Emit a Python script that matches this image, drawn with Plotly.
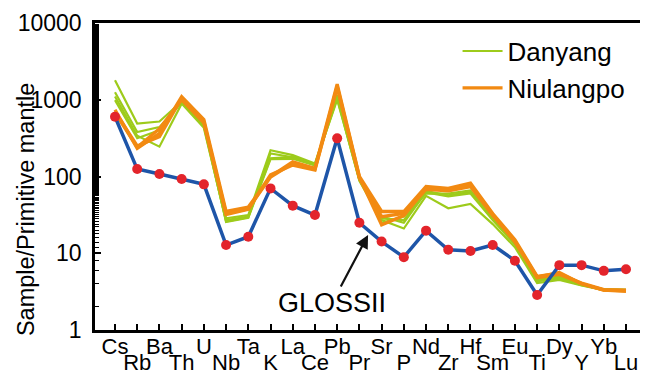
import plotly.graph_objects as go

elements = ["Cs", "Rb", "Ba", "Th", "U", "Nb", "Ta", "K", "La", "Ce", "Pb", "Pr",
            "Sr", "P", "Nd", "Zr", "Hf", "Sm", "Eu", "Ti", "Dy", "Y", "Yb", "Lu"]

danyang_1 = [1800, 490, 520, 950, 470, 28.5, 31.5, 220, 190, 148, 1100, 90, 28.5, 27, 65, 57, 63, 28, 13.5, 4.4, 4.7, 3.85, 3.35, 3.3]
danyang_2 = [1250, 380, 440, 920, 450, 26, 29.5, 200, 178, 141, 1050, 88, 27, 21, 56, 38.5, 44, 24, 12, 4.1, 4.5, 3.8, 3.3, 3.25]
danyang_3 = [1100, 340, 245, 890, 430, 27, 30, 173, 180, 145, 1000, 92, 30, 25, 62, 55, 60, 27, 13, 4.3, 4.8, 3.9, 3.3, 3.3]
danyang_4 = [990, 315, 400, 960, 480, 25.5, 29, 168, 170, 140, 1150, 95, 25, 30, 60, 60, 66, 29, 14, 4.6, 5.0, 4.0, 3.4, 3.35]

niulangpo_1 = [740, 233, 365, 1100, 550, 35, 40, 100, 156, 128, 1600, 100, 35, 35, 74, 70, 82, 33, 15, 5.0, 5.5, 4.0, 3.3, 3.25]
niulangpo_2 = [700, 250, 330, 1050, 520, 32, 37.5, 105, 141, 121, 1450, 95, 30, 33, 68, 65, 74, 31, 14.5, 4.8, 5.3, 4.1, 3.35, 3.3]
niulangpo_3 = [680, 240, 420, 1000, 500, 33, 38, 98, 148, 124, 1500, 98, 23.5, 31, 70, 67, 78, 32, 14, 4.9, 5.6, 4.0, 3.3, 3.2]

gloss_ii = [600, 125, 108, 93, 79, 12.8, 16.4, 70, 41.7, 31.5, 314, 25, 14.2, 8.9, 19.7, 11.1, 10.7, 12.8, 8.0, 2.86, 7.0, 7.0, 5.9, 6.2]

y_ticks = [1, 10, 100, 1000, 10000]
y_tick_labels = ["1", "10", "100", "1000", "10000"]

GREEN = "#9DCB1B"
ORANGE = "#F28A12"
BLUE = "#1E55A8"
RED = "#E3242B"
FONT = "Liberation Sans, Arial, sans-serif"

xs = list(range(len(elements)))
fig = go.Figure()

for i, s in enumerate([danyang_1, danyang_2, danyang_3, danyang_4]):
    fig.add_trace(go.Scatter(x=xs, y=s, mode="lines", name="Danyang",
                             legendgroup="d", showlegend=(i == 0),
                             line=dict(color=GREEN, width=2.2)))
for i, s in enumerate([niulangpo_1, niulangpo_2, niulangpo_3]):
    fig.add_trace(go.Scatter(x=xs, y=s, mode="lines", name="Niulangpo",
                             legendgroup="n", showlegend=(i == 0),
                             line=dict(color=ORANGE, width=3.3)))
fig.add_trace(go.Scatter(x=xs, y=gloss_ii, mode="lines+markers", name="GLOSSII",
                         showlegend=False,
                         line=dict(color=BLUE, width=3.5),
                         marker=dict(color=RED, size=10)))

even = xs[0::2]
odd = xs[1::2]
# invisible helper trace for the second label row axis
fig.add_trace(go.Scatter(x=[0], y=[1], xaxis="x2", mode="markers",
                         marker=dict(opacity=0), showlegend=False, hoverinfo="skip"))

# the page body has an 8px default margin, so the figure is 8px smaller
fig.update_layout(
    width=640, height=368,
    margin=dict(l=87, r=2, t=15, b=46, autoexpand=False),
    paper_bgcolor="white", plot_bgcolor="white",
    font=dict(family=FONT, color="black"),
    xaxis=dict(range=[-0.9, 23.9], tickmode="array", tickvals=even,
               ticktext=[elements[i] for i in even],
               ticks="inside", ticklen=6, tickwidth=1.5, tickcolor="black",
               showline=True, linewidth=2.5, linecolor="black", mirror=True,
               showgrid=False, zeroline=False, ticklabelstandoff=-5,
               automargin=False, tickfont=dict(size=22)),
    xaxis2=dict(range=[-0.9, 23.9], overlaying="x", anchor="y", side="bottom",
                tickmode="array", tickvals=odd,
                ticktext=[elements[i] for i in odd],
                ticks="inside", ticklen=6, tickwidth=1.5, tickcolor="black",
                showline=False, showgrid=False, zeroline=False,
                ticklabelstandoff=17, automargin=False, tickfont=dict(size=22)),
    yaxis=dict(type="log", range=[0, 4], tickmode="array", tickvals=y_ticks,
               ticktext=y_tick_labels,
               ticks="inside", ticklen=6, tickwidth=1.5, tickcolor="black",
               minor=dict(ticks="inside", ticklen=4, tickcolor="black", tickwidth=1, showgrid=False),
               showline=True, linewidth=2.5, linecolor="black", mirror=True,
               showgrid=False, zeroline=False, ticklabelstandoff=6,
               automargin=False, tickfont=dict(size=23)),
    legend=dict(x=0.658, y=0.985, xanchor="left", yanchor="top",
                font=dict(size=26), bgcolor="rgba(0,0,0,0)", tracegroupgap=0,
                itemwidth=40),
    annotations=[
        dict(text="Sample/Primitive mantle", xref="paper", yref="paper",
             x=-0.125, y=0.391, textangle=-90, showarrow=False,
             font=dict(size=23.5), xanchor="center", yanchor="middle"),
        dict(text="GLOSSII", x=11.39, y=1.238, xref="x", yref="y",
             showarrow=True, ax=-36, ay=68, arrowhead=2, arrowsize=1.2,
             arrowwidth=2.2, arrowcolor="#111111", font=dict(size=27)),
    ],
)

fig.write_html("out.html")
